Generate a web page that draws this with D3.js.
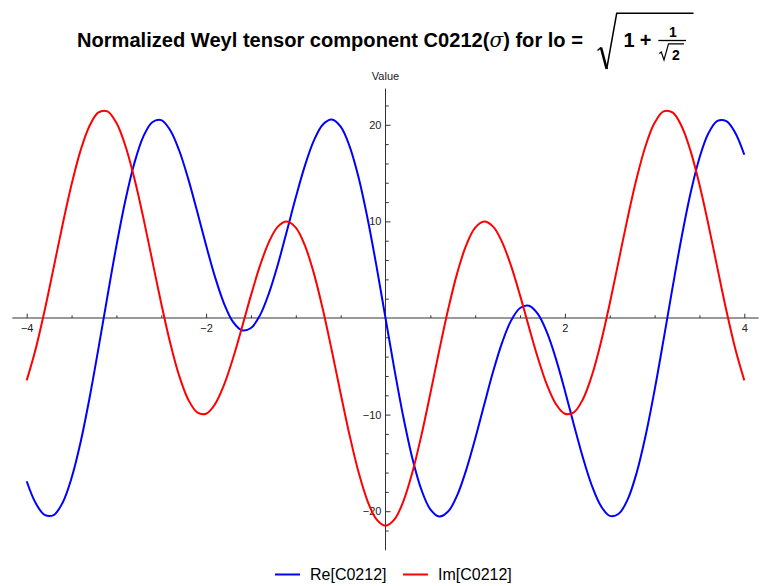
<!DOCTYPE html>
<html>
<head>
<meta charset="utf-8">
<script src="https://cdn.jsdelivr.net/npm/d3@7"></script>
<style>
  html, body { margin: 0; padding: 0; background: #fff; }
  svg { display: block; }
  text { font-family: "Liberation Sans", Arial, sans-serif; }
</style>
</head>
<body>
<svg id="chart" width="770" height="586"></svg>
<script>
// ---- data ----
const sigma = [-4.0,-3.9,-3.8,-3.7,-3.6,-3.5,-3.4,-3.3,-3.2,-3.1,-3.0,-2.9,-2.8,-2.7,-2.6,-2.5,-2.4,-2.3,-2.2,-2.1,
  -2.0,-1.9,-1.8,-1.7,-1.6,-1.5,-1.4,-1.3,-1.2,-1.1,-1.0,-0.9,-0.8,-0.7,-0.6,-0.5,-0.4,-0.3,-0.2,-0.1,
  0.0,0.1,0.2,0.3,0.4,0.5,0.6,0.7,0.8,0.9,1.0,1.1,1.2,1.3,1.4,1.5,1.6,1.7,1.8,1.9,
  2.0,2.1,2.2,2.3,2.4,2.5,2.6,2.7,2.8,2.9,3.0,3.1,3.2,3.3,3.4,3.5,3.6,3.7,3.8,3.9,4.0];

const reValues = [-16.90,-19.16,-20.38,-20.40,-19.12,-16.57,-12.89,-8.31,-3.14,2.24,7.47,12.17,16.02,18.77,20.27,20.48,19.44,17.34,14.43,11.04,
  7.52,4.23,1.50,-0.40,-1.27,-1.04,0.27,2.55,5.54,8.98,12.49,15.72,18.33,20.01,20.55,19.81,17.77,14.54,10.30,5.34,
  0.00,-5.34,-10.30,-14.54,-17.77,-19.81,-20.55,-20.01,-18.33,-15.72,-12.49,-8.98,-5.54,-2.55,-0.27,1.04,1.27,0.40,-1.50,-4.23,
  -7.52,-11.04,-14.43,-17.34,-19.44,-20.48,-20.27,-18.77,-16.02,-12.17,-7.47,-2.24,3.14,8.31,12.89,16.57,19.12,20.40,20.38,19.16,16.90];

const imValues = [-6.46,-3.21,0.78,5.19,9.66,13.82,17.33,19.88,21.28,21.39,20.20,17.83,14.46,10.39,5.94,1.50,-2.58,-5.98,-8.43,-9.76,
  -9.91,-8.91,-6.92,-4.17,-0.97,2.34,5.39,7.86,9.46,9.99,9.35,7.54,4.67,0.95,-3.32,-7.81,-12.15,-15.97,-18.95,-20.85,
  -21.50,-20.85,-18.95,-15.97,-12.15,-7.81,-3.32,0.95,4.67,7.54,9.35,9.99,9.46,7.86,5.39,2.34,-0.97,-4.17,-6.92,-8.91,
  -9.91,-9.76,-8.43,-5.98,-2.58,1.50,5.94,10.39,14.46,17.83,20.20,21.39,21.28,19.88,17.33,13.82,9.66,5.19,0.78,-3.21,-6.46];

const seriesNames = ["Re[C0212]", "Im[C0212]"];
const seriesColors = ["#0000ff", "#ff0000"];

const xMajorTicks = [-4, -2, 2, 4];
const xMinorTicks = [-3.5, -3, -2.5, -1.5, -1, -0.5, 0.5, 1, 1.5, 2.5, 3, 3.5];
const yMajorTicks = [-20, -10, 10, 20];
const yMinorTicks = [-22, -18, -16, -14, -12, -8, -6, -4, -2, 2, 4, 6, 8, 12, 14, 16, 18, 22];

// ---- drawing ----
const svg = d3.select("#chart");
svg.append("rect").attr("width", 770).attr("height", 586).attr("fill", "#fff");

const x = d3.scaleLinear().domain([-4, 4]).range([26.7, 744.3]);
const y = d3.scaleLinear().domain([-20, 20]).range([511.2, 124.8]);

const axisColor = "#333";
const fmt = d3.format("");

// axis lines
svg.append("line").attr("x1", x(-4.16)).attr("x2", x(4.16))
  .attr("y1", y(0)).attr("y2", y(0)).attr("stroke", axisColor).attr("stroke-width", 1);
svg.append("line").attr("x1", x(0)).attr("x2", x(0))
  .attr("y1", y(23.75)).attr("y2", y(-24.05)).attr("stroke", axisColor).attr("stroke-width", 1);

// x axis ticks (upward) and labels
const gx = svg.append("g").attr("transform", `translate(0,${y(0)})`);
gx.call(d3.axisBottom(x).tickValues(xMinorTicks).tickSize(-2.7).tickFormat(""));
gx.append("g").call(d3.axisBottom(x).tickValues(xMajorTicks).tickSize(-4.3).tickPadding(6).tickFormat(fmt));
gx.selectAll(".domain").remove();
gx.selectAll("line").attr("stroke", axisColor);
gx.selectAll("text").attr("fill", "#222").style("font-size", "11px").style("font-family", '"Liberation Sans", Arial, sans-serif');

// y axis ticks (rightward) and labels
const gy = svg.append("g").attr("transform", `translate(${x(0)},0)`);
gy.call(d3.axisLeft(y).tickValues(yMinorTicks).tickSize(-3.2).tickFormat(""));
gy.append("g").call(d3.axisLeft(y).tickValues(yMajorTicks).tickSize(-5).tickPadding(4).tickFormat(fmt));
gy.selectAll(".domain").remove();
gy.selectAll("line").attr("stroke", axisColor);
gy.selectAll("text").attr("fill", "#222").style("font-size", "11px").style("font-family", '"Liberation Sans", Arial, sans-serif');

// axis label
svg.append("text").attr("x", x(0)).attr("y", 80).attr("text-anchor", "middle")
  .attr("fill", "#222").style("font-size", "11px").text("Value");

// curves
const line = d3.line().curve(d3.curveCatmullRom.alpha(0.5))
  .x(d => x(d[0])).y(d => y(d[1]));
const series = [reValues, imValues];
series.forEach((vals, i) => {
  svg.append("path")
    .datum(sigma.map((s, k) => [s, vals[k]]))
    .attr("d", line)
    .attr("fill", "none")
    .attr("stroke", seriesColors[i])
    .attr("stroke-width", 2)
    .attr("stroke-linejoin", "round");
});

// title
const title = svg.append("text").attr("x", 77).attr("y", 47)
  .style("font-size", "20px").style("font-weight", "bold").attr("fill", "#000");
title.append("tspan").text("Normalized Weyl tensor component C0212(");
title.append("tspan").style("font-style", "italic").style("font-weight", "normal")
  .style("font-family", '"DejaVu Serif", "Liberation Serif", serif').text("\u03C3");
title.append("tspan").text(") for lo =");
// fit the title text to the width seen in the reference (77 -> 583)
const measured = title.node().getComputedTextLength();
if (measured > 0) {
  const fs = Math.min(23, Math.max(18, 20 * 506 / measured));
  title.style("font-size", fs.toFixed(2) + "px");
}

const tg = svg.append("g");
// radical
tg.append("path").attr("d", "M597.5,50.5 L601,47.5").attr("stroke", "#000").attr("stroke-width", 1.4).attr("fill", "none");
tg.append("path").attr("d", "M601,47.5 L606.7,69").attr("stroke", "#000").attr("stroke-width", 2.6).attr("fill", "none");
tg.append("path").attr("d", "M606.7,69 L616.7,13.3 L693.5,13.3").attr("stroke", "#000").attr("stroke-width", 1.5)
  .attr("fill", "none").attr("stroke-linejoin", "miter");
tg.append("text").attr("x", 629).attr("y", 47).attr("text-anchor", "middle")
  .style("font-size", "20px").style("font-weight", "bold").text("1");
tg.append("text").attr("x", 645.5).attr("y", 47).attr("text-anchor", "middle")
  .style("font-size", "20px").style("font-weight", "bold").text("+");
// fraction
tg.append("text").attr("x", 673).attr("y", 37.3).attr("text-anchor", "middle")
  .style("font-size", "14px").style("font-weight", "bold").text("1");
tg.append("line").attr("x1", 658.3).attr("x2", 686).attr("y1", 40.5).attr("y2", 40.5)
  .attr("stroke", "#000").attr("stroke-width", 1.3);
tg.append("path").attr("d", "M659.3,53.5 L661.3,52 L664,60 L668.5,43.8 L684,43.8")
  .attr("stroke", "#000").attr("stroke-width", 1.2).attr("fill", "none");
tg.append("text").attr("x", 676).attr("y", 60).attr("text-anchor", "middle")
  .style("font-size", "14px").style("font-weight", "bold").text("2");

// legend
const legendX = [275, 403];
seriesNames.forEach((name, i) => {
  const g = svg.append("g").attr("transform", `translate(${legendX[i]},574.5)`);
  g.append("line").attr("x1", 0).attr("x2", 25).attr("y1", 0).attr("y2", 0)
    .attr("stroke", seriesColors[i]).attr("stroke-width", 2);
  g.append("text").attr("x", 35).attr("y", 5.6).attr("fill", "#000")
    .style("font-size", "16px").text(name);
});
</script>
</body>
</html>
